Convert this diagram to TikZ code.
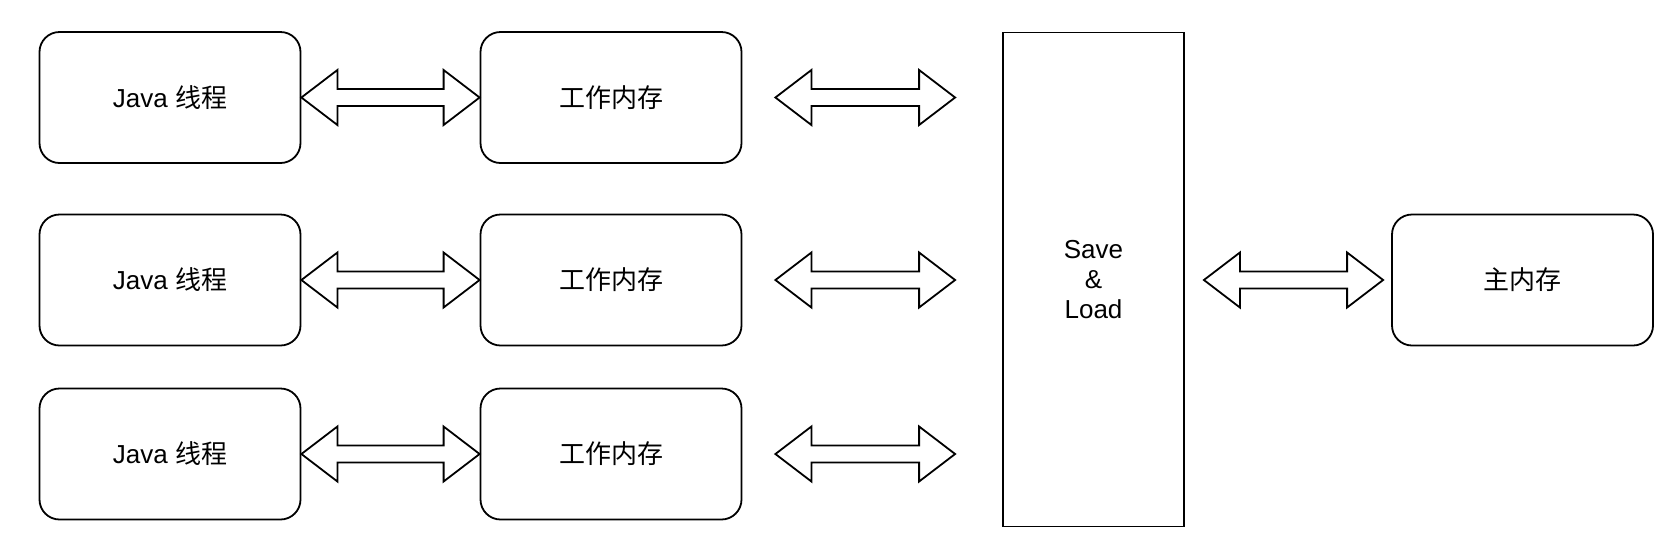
\documentclass[tikz,border=0pt]{standalone}
\usepackage{fontspec}
\setmainfont{Liberation Sans}
\newfontfamily\cjk{Noto Sans CJK SC}
\usetikzlibrary{calc}

\begin{document}
\begin{tikzpicture}[x=1pt,y=-1pt]
        \tikzset{box/.style = {shape=rectangle,draw,rounded corners=20pt,line width=1.8pt,minimum width=261pt,minimum height=131pt,font=\fontsize{26}{30}\selectfont}}
        \tikzset{bus/.style = {shape=rectangle,draw,line width=1.8pt,minimum width=181pt,minimum height=494pt,align=center,font=\fontsize{26}{30}\selectfont}}
        \tikzset{dblarrow/.style = {draw,fill=white,line width=1.8pt,line join=miter,
            to path={let \p1=(\tikztostart), \p2=(\tikztotarget) in
            (\p1) -- (\x1+36pt,\y1+27.5pt) -- (\x1+36pt,\y1+8.5pt) -- (\x2-36pt,\y1+8.5pt) -- (\x2-36pt,\y1+27.5pt)
            -- (\x2,\y1) -- (\x2-36pt,\y1-27.5pt) -- (\x2-36pt,\y1-8.5pt) -- (\x1+36pt,\y1-8.5pt) -- (\x1+36pt,\y1-27.5pt) -- cycle}}}
        \useasboundingbox (0,0) rectangle (1675,547);
        % threads
        \node[box] (t1) at (170,97.5) {Java {\cjk 线程}};
        \node[box] (t2) at (170,280) {Java {\cjk 线程}};
        \node[box] (t3) at (170,454) {Java {\cjk 线程}};
        % working memory
        \node[box] (w1) at (611,97.5) {\cjk 工作内存};
        \node[box] (w2) at (611,280) {\cjk 工作内存};
        \node[box] (w3) at (611,454) {\cjk 工作内存};
        % save & load, main memory
        \node[bus] (sl) at (1093.5,279.5) {Save\\\&\\Load};
        \node[box] (mm) at (1522.5,280) {\cjk 主内存};
        %arrows
        \draw[dblarrow] (t1.east) to (w1.west);
        \draw[dblarrow] (t2.east) to (w2.west);
        \draw[dblarrow] (t3.east) to (w3.west);
        \draw[dblarrow] ([xshift=33pt]w1.east) to ([xshift=-47pt]w1.east -| sl.west);
        \draw[dblarrow] ([xshift=33pt]w2.east) to ([xshift=-47pt]w2.east -| sl.west);
        \draw[dblarrow] ([xshift=33pt]w3.east) to ([xshift=-47pt]w3.east -| sl.west);
        \draw[dblarrow] ([xshift=19pt]sl.east |- mm.west) to ([xshift=-8pt]mm.west);
\end{tikzpicture}
\end{document}
